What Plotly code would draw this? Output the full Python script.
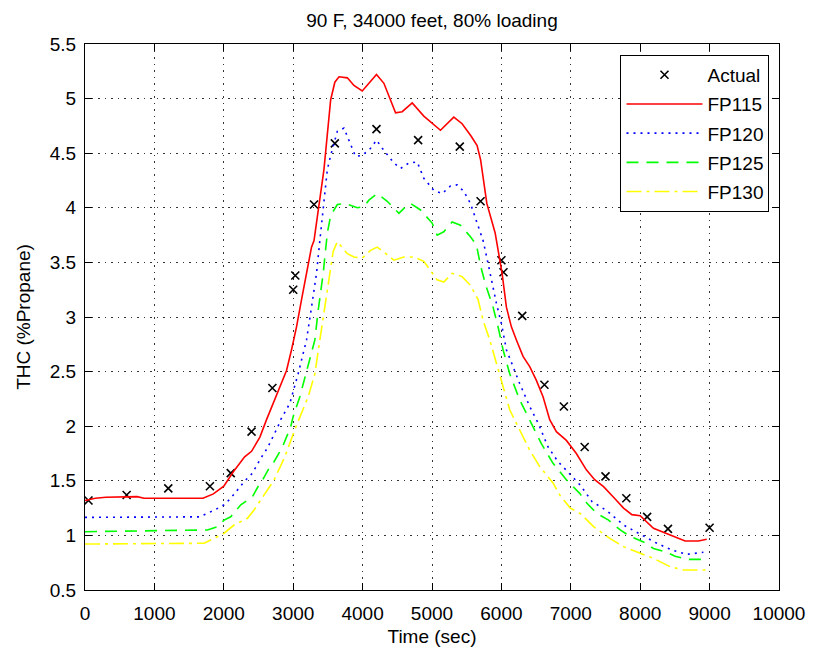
import plotly.graph_objects as go

# Measured total hydrocarbons
actual_t = [50, 600, 1200, 1800, 2100, 2400, 2700, 3000, 3030, 3300, 3600, 4200,
            4800, 5400, 5700, 6000, 6030, 6300, 6620, 6900, 7200, 7500, 7800,
            8100, 8400, 9000]
actual_v = [1.32, 1.37, 1.43, 1.45, 1.57, 1.95, 2.35, 3.25, 3.38, 4.03, 4.59, 4.72,
            4.62, 4.56, 4.06, 3.52, 3.41, 3.01, 2.38, 2.18, 1.81, 1.54, 1.34,
            1.17, 1.06, 1.07]

# Model predictions
fp115_t = [0, 150, 300, 750, 850, 1700, 1850, 2000, 2135, 2300, 2400, 2520, 2616,
           2712, 2808, 2904, 2976, 3048, 3120, 3192, 3264, 3300, 3443, 3540, 3600,
           3660, 3780, 3875, 3995, 4091, 4200, 4307, 4475, 4571, 4715, 4882, 5122,
           5314, 5434, 5560, 5650, 5700, 5790, 5910, 5980, 6010, 6072, 6144, 6216,
           6312, 6408, 6504, 6600, 6696, 6792, 6936, 7080, 7224, 7344, 7472, 7616,
           7760, 7880, 8000, 8191, 8432, 8647, 8839, 8959]
fp115_v = [1.32, 1.34, 1.35, 1.355, 1.34, 1.34, 1.38, 1.45, 1.58, 1.72, 1.77, 1.90,
           2.06, 2.21, 2.36, 2.51, 2.70, 2.91, 3.16, 3.40, 3.64, 3.70, 4.35, 4.99,
           5.15, 5.20, 5.19, 5.12, 5.07, 5.14, 5.22, 5.14, 4.87, 4.88, 4.96, 4.84,
           4.71, 4.83, 4.77, 4.66, 4.57, 4.44, 4.04, 3.77, 3.52, 3.40, 3.09, 2.91,
           2.79, 2.64, 2.545, 2.42, 2.27, 2.06, 1.95, 1.87, 1.75, 1.60, 1.51, 1.446,
           1.35, 1.25, 1.19, 1.18, 1.065, 1.004, 0.949, 0.949, 0.964]

fp120_t = [0, 1650, 1860, 2004, 2100, 2197, 2304, 2413, 2532, 2628, 2724, 2783,
           2820, 2952, 3071, 3192, 3264, 3336, 3384, 3443, 3492, 3540, 3636, 3731,
           3827, 3899, 3995, 4115, 4201, 4283, 4451, 4547, 4666, 4787, 4882, 5026,
           5146, 5266, 5362, 5458, 5554, 5650, 5736, 5808, 5856, 5928, 6000, 6072,
           6168, 6264, 6408, 6528, 6672, 6816, 6945, 7137, 7305, 7520, 7760, 7976,
           8240, 8456, 8671, 8911]
fp120_v = [1.165, 1.17, 1.23, 1.28, 1.34, 1.416, 1.50, 1.57, 1.706, 1.80, 1.92, 2.0,
           2.06, 2.21, 2.48, 2.79, 3.09, 3.40, 3.70, 4.04, 4.35, 4.48, 4.70, 4.73,
           4.59, 4.47, 4.48, 4.545, 4.62, 4.545, 4.41, 4.36, 4.41, 4.42, 4.27, 4.16,
           4.13, 4.20, 4.21, 4.15, 4.04, 3.86, 3.70, 3.49, 3.34, 3.125, 2.94, 2.70,
           2.545, 2.39, 2.18, 2.03, 1.81, 1.675, 1.59, 1.46, 1.31, 1.226, 1.095, 1.02,
           0.928, 0.866, 0.827, 0.845]

fp125_t = [0, 1765, 1909, 2004, 2100, 2245, 2413, 2496, 2532, 2664, 2724, 2845,
           2964, 3000, 3096, 3216, 3312, 3360, 3432, 3492, 3540, 3636, 3755, 3924,
           4019, 4091, 4211, 4355, 4523, 4619, 4691, 4835, 5002, 5074, 5170, 5290,
           5410, 5554, 5640, 5700, 5770, 5880, 5952, 6024, 6120, 6264, 6432, 6576,
           6744, 6936, 7128, 7233, 7377, 7544, 7712, 7856, 8047, 8191, 8360, 8503,
           8671, 8959]
fp125_v = [1.034, 1.05, 1.08, 1.14, 1.17, 1.28, 1.354, 1.45, 1.477, 1.63, 1.675, 1.81,
           1.995, 2.09, 2.27, 2.545, 2.79, 3.06, 3.40, 3.77, 3.93, 4.03, 4.04, 4.00,
           4.01, 4.07, 4.13, 4.06, 3.95, 4.01, 4.04, 3.98, 3.86, 3.75, 3.78, 3.87,
           3.84, 3.735, 3.66, 3.47, 3.30, 3.09, 2.91, 2.70, 2.48, 2.24, 2.03, 1.84,
           1.66, 1.51, 1.385, 1.294, 1.20, 1.14, 1.05, 0.99, 0.94, 0.88, 0.85, 0.81,
           0.78, 0.78]

fp130_t = [0, 1717, 1860, 2004, 2148, 2341, 2436, 2532, 2640, 2724, 2880, 3030,
           3216, 3312, 3384, 3456, 3528, 3576, 3636, 3708, 3780, 3875, 3995, 4115,
           4211, 4355, 4451, 4595, 4738, 4882, 4978, 5074, 5170, 5290, 5434, 5554,
           5664, 5736, 5832, 5928, 6024, 6120, 6264, 6408, 6552, 6744, 6850, 6993,
           7137, 7328, 7568, 7760, 8000, 8191, 8432, 8623, 8959]
fp130_v = [0.921, 0.928, 0.973, 1.02, 1.095, 1.157, 1.233, 1.324, 1.43, 1.507, 1.72,
           1.98, 2.27, 2.48, 2.79, 3.09, 3.40, 3.60, 3.69, 3.64, 3.58, 3.55, 3.54,
           3.61, 3.64, 3.57, 3.52, 3.55, 3.55, 3.51, 3.43, 3.34, 3.32, 3.40, 3.37,
           3.29, 3.16, 2.97, 2.79, 2.58, 2.36, 2.15, 1.965, 1.78, 1.63, 1.48, 1.36,
           1.25, 1.20, 1.08, 0.97, 0.897, 0.836, 0.79, 0.713, 0.683, 0.683]

x_ticks = [0, 1000, 2000, 3000, 4000, 5000, 6000, 7000, 8000, 9000, 10000]
y_ticks = [0.5, 1, 1.5, 2, 2.5, 3, 3.5, 4, 4.5, 5, 5.5]

FONT = "Liberation Sans, Arial, sans-serif"

fig = go.Figure()

fig.add_trace(go.Scatter(
    x=actual_t, y=actual_v, name="Actual", mode="markers", legendgroup="a",
    marker=dict(symbol="x-thin", size=8, color="black",
                line=dict(width=1.6, color="black")),
))
fig.add_trace(go.Scatter(
    x=fp115_t, y=fp115_v, name="FP115", mode="lines", legendgroup="b",
    line=dict(color="#ff0000", width=1.6),
))
fig.add_trace(go.Scatter(
    x=fp120_t, y=fp120_v, name="FP120", mode="lines", legendgroup="c",
    line=dict(color="#0000ff", width=1.6, dash="2px,5px"),
))
fig.add_trace(go.Scatter(
    x=fp125_t, y=fp125_v, name="FP125", mode="lines", legendgroup="d",
    line=dict(color="#00ff00", width=1.6, dash="12px,8px"),
))
fig.add_trace(go.Scatter(
    x=fp130_t, y=fp130_v, name="FP130", mode="lines", legendgroup="e",
    line=dict(color="#ffff00", width=1.6, dash="15px,5px,3px,5px"),
))

axis_common = dict(
    showline=True, linecolor="black", linewidth=1, mirror="ticks",
    ticks="inside", ticklen=7, tickcolor="black", tickwidth=1,
    showgrid=True, gridcolor="#333333", gridwidth=1, griddash="1.5px,5px",
    zeroline=False, tickfont=dict(family=FONT, size=19, color="black"),
)

fig.update_xaxes(
    range=[0, 10000], tickvals=x_ticks, ticktext=[str(v) for v in x_ticks],
    title=dict(text="Time (sec)", font=dict(family=FONT, size=19, color="black"),
               standoff=6),
    ticklabelstandoff=6, **axis_common,
)
fig.update_yaxes(
    range=[0.5, 5.5], tickvals=y_ticks, ticktext=[f"{v:g}" for v in y_ticks],
    title=dict(text="THC (%Propane)", font=dict(family=FONT, size=19, color="black"),
               standoff=14),
    ticklabelstandoff=4, **axis_common,
)

fig.update_layout(
    width=817, height=655,
    margin=dict(l=85, r=38, t=44, b=65),
    paper_bgcolor="white", plot_bgcolor="white",
    font=dict(family=FONT, size=19, color="black"),
    title=dict(text="90 F, 34000 feet, 80% loading", x=0.5, xref="paper",
               y=1 - 20 / 655, yanchor="middle",
               font=dict(family=FONT, size=19, color="black")),
    legend=dict(
        x=0.9863, y=0.98, xanchor="right", yanchor="top",
        bgcolor="white", bordercolor="black", borderwidth=1,
        font=dict(family=FONT, size=19, color="black"),
        itemwidth=76, tracegroupgap=1.5, traceorder="grouped",
    ),
    showlegend=True,
)

fig.write_html("out.html")
